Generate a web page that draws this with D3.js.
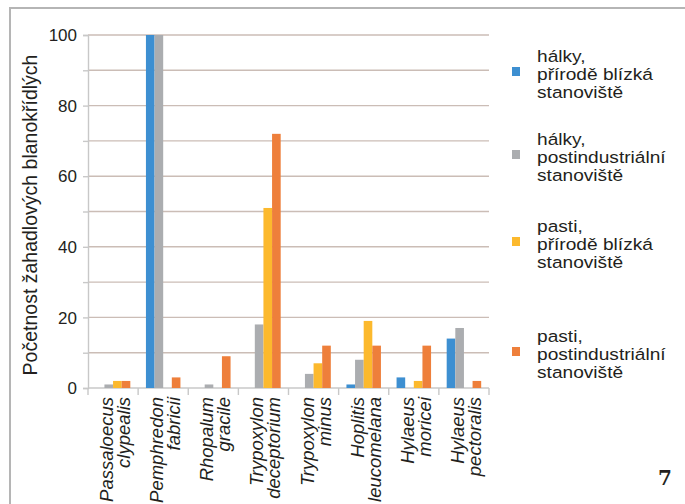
<!DOCTYPE html>
<html>
<head>
<meta charset="utf-8">
<script src="https://cdn.jsdelivr.net/npm/d3@7"></script>
<style>
  html, body { margin: 0; padding: 0; background: #ffffff; }
  svg { display: block; }
  text { font-family: "Liberation Sans", Arial, Helvetica, sans-serif; fill: #231f20; }
</style>
</head>
<body>
<svg id="chart" width="685" height="504"></svg>
<script>
// ---- data ----
const categories = [
  ["Passaloecus", "clypealis"],
  ["Pemphredon", "fabricii"],
  ["Rhopalum", "gracile"],
  ["Trypoxylon", "deceptorium"],
  ["Trypoxylon", "minus"],
  ["Hoplitis", "leucomelana"],
  ["Hylaeus", "moricei"],
  ["Hylaeus", "pectoralis"]
];
const seriesNames = [
  ["hálky,", "přírodě blízká", "stanoviště"],
  ["hálky,", "postindustriální", "stanoviště"],
  ["pasti,", "přírodě blízká", "stanoviště"],
  ["pasti,", "postindustriální", "stanoviště"]
];
const halkyPrirodni   = [0, 100, 0, 0, 0, 1, 3, 14];
const halkyPostind    = [1, 100, 1, 18, 4, 8, 0, 17];
const pastiPrirodni   = [2, 0, 0, 51, 7, 19, 2, 0];
const pastiPostind    = [2, 3, 9, 72, 12, 12, 12, 2];
const seriesValues = [halkyPrirodni, halkyPostind, pastiPrirodni, pastiPostind];
const colors = ["#3d8fd1", "#abadb0", "#fcb92d", "#ee7f3b"];
const yTicks = [0, 20, 40, 60, 80, 100];
const yGrid = [10, 20, 30, 40, 50, 60, 70, 80, 90, 100];
const yTitle = "Početnost žahadlových blanokřídlých";
const figNumber = "7";

// ---- layout ----
const svg = d3.select("#chart");
const plotLeft = 88, plotRight = 489, plotTop = 35, plotBottom = 388;

// frame
svg.append("path")
  .attr("d", "M10,504 L10,8 L685,8")
  .attr("fill", "none").attr("stroke", "#b5b5b5").attr("stroke-width", 2);

const catKeys = categories.map((c, i) => i);
const x0 = d3.scaleBand().domain(catKeys).range([plotLeft, plotRight]).padding(0);
const bw = x0.bandwidth();
const groupW = 34.5;
const x1 = d3.scaleBand().domain(d3.range(seriesValues.length))
  .range([(bw - groupW) / 2, (bw + groupW) / 2]).padding(0);
const y = d3.scaleLinear().domain([0, 100]).range([plotBottom, plotTop]);

// gridlines
svg.append("g").selectAll("line").data(yGrid).join("line")
  .attr("x1", plotLeft).attr("x2", plotRight)
  .attr("y1", d => y(d)).attr("y2", d => y(d))
  .attr("stroke", "#cbbdb6").attr("stroke-width", 1.4);

// y axis
const yAxis = d3.axisLeft(y).tickValues(d3.range(0, 101, 10)).tickSize(5).tickFormat("");
const gy = svg.append("g").attr("transform", `translate(${plotLeft},0)`).call(yAxis);
gy.select(".domain").attr("stroke", "#c8c8c8").attr("stroke-width", 1.4);
gy.selectAll(".tick line").attr("stroke", "#c8c8c8").attr("stroke-width", 1.4);

svg.append("g").selectAll("text").data(yTicks).join("text")
  .attr("x", 77).attr("y", d => y(d)).attr("dy", "0.36em")
  .attr("text-anchor", "end").attr("font-size", 17)
  .text(d => d);

// x axis baseline & ticks
svg.append("line").attr("x1", plotLeft).attr("x2", plotRight)
  .attr("y1", y(0)).attr("y2", y(0))
  .attr("stroke", "#c8c8c8").attr("stroke-width", 1.4);
const tickPos = catKeys.map(k => x0(k)).concat([plotRight]);
svg.append("g").selectAll("line").data(tickPos).join("line")
  .attr("x1", d => d).attr("x2", d => d)
  .attr("y1", y(0)).attr("y2", y(0) + 7)
  .attr("stroke", "#c8c8c8").attr("stroke-width", 1.4);

// bars
seriesValues.forEach((vals, si) => {
  svg.append("g").selectAll("rect").data(vals).join("rect")
    .attr("x", (d, i) => x0(i) + x1(si))
    .attr("width", x1.bandwidth())
    .attr("y", d => y(d))
    .attr("height", d => y(0) - y(d))
    .attr("fill", colors[si]);
});

// x labels (two lines each, rotated)
const xl = svg.append("g").selectAll("text").data(categories).join("text")
  .attr("transform", (d, i) => `translate(${x0(i) + bw / 2},397) rotate(-90)`)
  .attr("text-anchor", "end").attr("font-size", 18.5).attr("font-style", "italic");
xl.selectAll("tspan").data(d => d).join("tspan")
  .attr("x", 0).attr("y", (t, j) => j * 17)
  .text(t => t);

// y title
svg.append("text")
  .attr("transform", "translate(37,215) rotate(-90)")
  .attr("text-anchor", "middle").attr("font-size", 19.5)
  .text(yTitle);

// legend
const legendTops = [61.5, 144.5, 231.5, 341.5];
const lineGap = 18.5;
const lg = svg.append("g").selectAll("g").data(seriesNames).join("g");
lg.append("rect")
  .attr("x", 512).attr("y", (d, i) => legendTops[i] + lineGap - 13)
  .attr("width", 8).attr("height", 9)
  .attr("fill", (d, i) => colors[i]);
const lt = lg.append("text")
  .attr("transform", (d, i) => `translate(537,${legendTops[i]}) scale(1.16,1)`)
  .attr("font-size", 16.5);
lt.selectAll("tspan").data(d => d).join("tspan")
  .attr("x", 0).attr("y", (t, j) => j * lineGap)
  .text(t => t);

// figure number
svg.append("text").attr("x", 658).attr("y", 485)
  .attr("font-weight", "bold")
  .attr("font-size", 20).style("font-family", "'DejaVu Serif', serif")
  .text(figNumber);
</script>
</body>
</html>
